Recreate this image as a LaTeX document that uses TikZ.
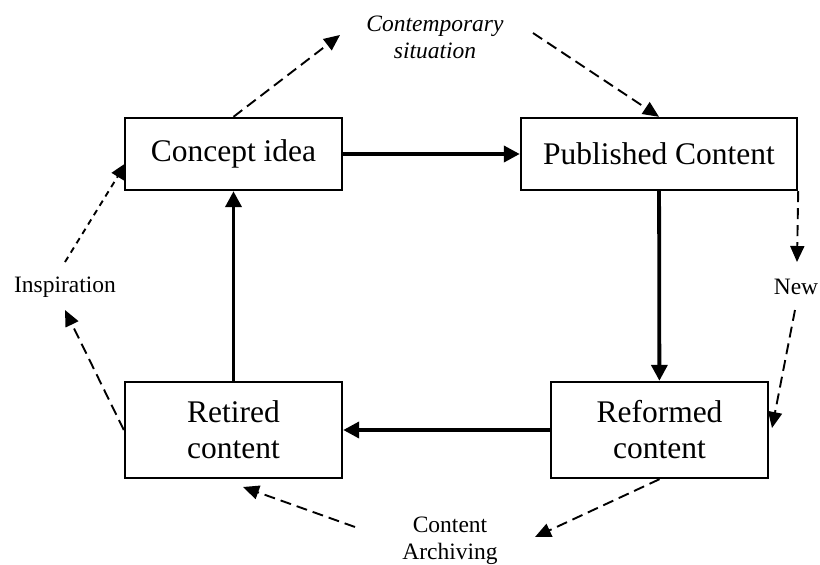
\documentclass[tikz,border=0pt]{standalone}
\usepackage{fontspec}
\setmainfont{Liberation Serif}
\usetikzlibrary{arrows.meta}
\begin{document}
\begin{tikzpicture}[x=1pt,y=-1pt,
  box/.style={draw,line width=2.4pt,inner sep=0pt,align=center,font=\fontsize{31.5}{36}\selectfont},
  lbl/.style={inner sep=0pt,align=center,font=\fontsize{23.5}{27}\selectfont},
  flow/.style={line width=3.8pt,-{Triangle[length=16pt,width=16pt]}},
  dsh/.style={line width=1.9pt,dash pattern=on 11pt off 6pt,-{Triangle[length=16pt,width=14pt]}},
  dshfine/.style={line width=1.9pt,dash pattern=on 6pt off 5pt,-{Triangle[length=16pt,width=14pt]}}]
\useasboundingbox (0,0) rectangle (820,565);
\node[box,minimum width=217pt,minimum height=72pt] (concept) at (233.5,154) {Concept idea};
\node[box,minimum width=276pt,minimum height=72pt] (published) at (659,154) {Published Content};
\node[box,minimum width=217pt,minimum height=96pt] (retired) at (233.5,430) {Retired\\content};
\node[box,minimum width=217pt,minimum height=96pt] (reformed) at (659.5,430) {Reformed\\content};

\node[lbl,font=\fontsize{23.5}{27}\selectfont\itshape] (contemp) at (435,37) {Contemporary\\situation};
\node[lbl] (insp) at (65,287) {Inspiration};
\node[lbl] (new) at (796,287) {New};
\node[lbl] (arch) at (450,541) {Content\\Archiving};

\draw[flow] (concept) -- (published);
\draw[flow] (published) -- (reformed);
\draw[flow] (reformed) -- (retired);
\draw[flow] (retired) -- (concept);

\coordinate (c1) at (340,35);
\coordinate (c2) at (533,33);
\coordinate (c3) at (797,262);
\coordinate (c4) at (795,310);
\coordinate (c4e) at (772,428);
\coordinate (c5) at (535,537);
\coordinate (c6) at (355,527);
\coordinate (c6e) at (243,487);
\coordinate (c7) at (65,310);
\coordinate (c8) at (65,262);
\coordinate (c8e) at (126,163);

\draw[dsh] (concept.north) -- (c1);
\draw[dsh] (c2) -- (published.north);
\draw[dsh] (published.south east) -- (c3);
\draw[dsh] (c4) -- (c4e);
\draw[dsh] (reformed.south) -- (c5);
\draw[dsh] (c6) -- (c6e);
\draw[dsh] (retired.west) -- (c7);
\draw[dshfine] (c8) -- (c8e);
\end{tikzpicture}
\end{document}
